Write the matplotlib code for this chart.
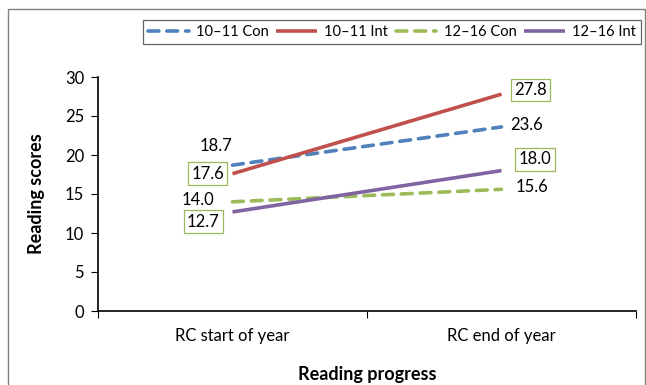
import matplotlib.pyplot as plt
from matplotlib.patches import Rectangle

plt.rcParams['font.family'] = ['Lato', 'DejaVu Sans']

stages = ["RC start of year", "RC end of year"]
series = ["10\u201311 Con", "10\u201311 Int", "12\u201316 Con", "12\u201316 Int"]
con_10_11 = [18.7, 23.6]
int_10_11 = [17.6, 27.8]
con_12_16 = [14.0, 15.6]
int_12_16 = [12.7, 18.0]

colors = ["#4F81BD", "#C0504D", "#9BBB59", "#8064A2"]
styles = [(0, (3, 2.2)), "-", (0, (3, 2.2)), "-"]
values = [con_10_11, int_10_11, con_12_16, int_12_16]
boxed = [[False, False], [True, True], [False, False], [True, True]]
# label offsets in points (start, end)
offsets = [[(-12, 14), (18, 1.5)], [(-18, 0), (21, 3)], [(-25, 1.5), (22, 1.5)], [(-21, -7), (24, 8)]]

fig = plt.figure(figsize=(6.46, 3.85), dpi=100)
ax = fig.add_axes([98/646, 74/385, 538/646, 234/385])

x = [0.5, 1.5]
handles = []
for vals, c, ls, name in zip(values, colors, styles, series):
    h, = ax.plot(x, vals, color=c, lw=2.6, linestyle=ls, label=name,
                 solid_capstyle='butt', dash_capstyle='round')
    handles.append(h)

for vals, bx, offs in zip(values, boxed, offsets):
    for xi, v, b, off in zip(x, vals, bx, offs):
        bbox = None
        if b:
            bbox = dict(boxstyle='square,pad=0.2', fc='white', ec='#9BBB59', lw=0.9)
        ax.annotate(f"{v:.1f}", (xi, v), xytext=off, textcoords='offset points',
                    ha='center', va='center', fontsize=12, bbox=bbox)

ax.set_xlim(0, 2)
ax.set_ylim(0, 30)
ax.set_yticks(range(0, 31, 5))
ax.set_xticks([0, 1, 2])
ax.set_xticklabels([])
ax.set_xticks(x, minor=True)
ax.set_xticklabels(stages, minor=True)
ax.tick_params(axis='x', which='minor', length=0, pad=12, labelsize=12)
ax.tick_params(axis='x', which='major', length=5, direction='out')
ax.tick_params(axis='y', length=5, labelsize=12, pad=5)
for s in ['top', 'right']:
    ax.spines[s].set_visible(False)
for s in ['left', 'bottom']:
    ax.spines[s].set_linewidth(1.2)
ax.set_xlabel("Reading progress", fontsize=13, fontweight='bold', labelpad=16)
ax.set_ylabel("Reading scores", fontsize=13, fontweight='bold', labelpad=14)

leg = fig.legend(handles=handles, loc='center', bbox_to_anchor=(392/646, 1 - 32/385),
                 ncol=4, fontsize=10.5, frameon=True, fancybox=False,
                 handlelength=2.8, columnspacing=0.5, handletextpad=0.5,
                 borderpad=0.35)
leg.get_frame().set_edgecolor('#404040')
leg.get_frame().set_linewidth(0.9)

fig.patches.append(Rectangle((8/646, -0.01), 637/646, 1 - 9/385 + 0.01,
                             transform=fig.transFigure, fill=False,
                             ec='#808080', lw=1.0))

fig.savefig("out.png", dpi=100)
